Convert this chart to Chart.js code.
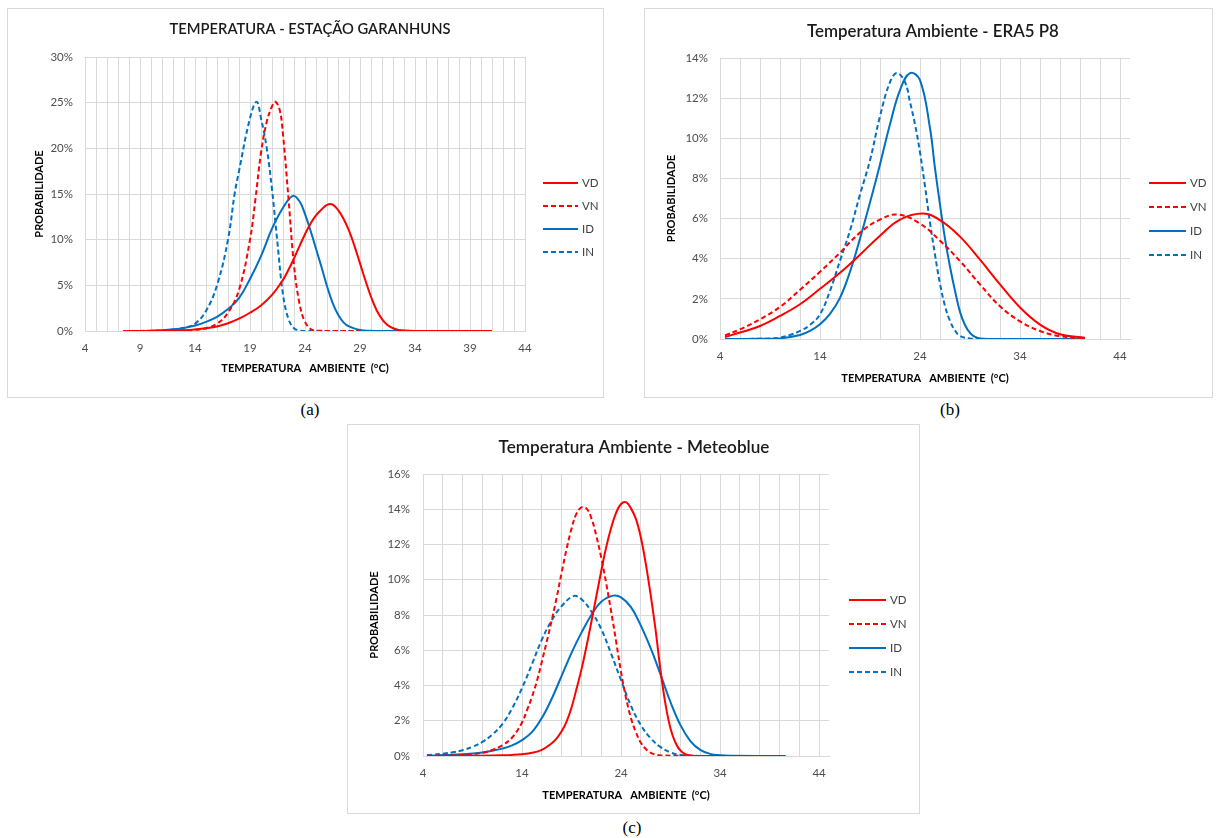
<!DOCTYPE html>
<html><head><meta charset="utf-8">
<script src="https://cdn.jsdelivr.net/npm/chart.js@4.4.1/dist/chart.umd.min.js"></script>
<style>
html,body{margin:0;padding:0;background:#fff;}
body{width:1217px;height:838px;position:relative;overflow:hidden;font-family:Lato,sans-serif;}
.panel{position:absolute;border:1px solid #d9d9d9;box-sizing:border-box;background:#fff;}
.panel canvas{position:absolute;left:0;top:0;}
.cap{position:absolute;font-family:"Liberation Serif","Times New Roman",serif;font-size:17px;color:#000;transform:translateX(-50%);line-height:20px;}
</style></head><body>
<div class="panel" style="left:7px;top:8px;width:597px;height:390px;"><canvas id="ca" width="595" height="388"></canvas></div>
<div class="panel" style="left:644px;top:8px;width:569px;height:390px;"><canvas id="cb" width="567" height="388"></canvas></div>
<div class="panel" style="left:347px;top:424px;width:573px;height:390px;"><canvas id="cc" width="571" height="388"></canvas></div>
<div class="cap" style="left:310px;top:400px;">(a)</div>
<div class="cap" style="left:950px;top:400px;">(b)</div>
<div class="cap" style="left:632px;top:818px;">(c)</div>
<script>
// ---- series names ----
const SERIES = ['VD', 'VN', 'ID', 'IN'];

// ---- (a) TEMPERATURA - ESTAÇÃO GARANHUNS ----
const A_VD_T = [7.5, 10, 12, 13, 14, 15, 16, 17, 18, 19, 20, 21, 22, 22.5, 23, 23.5, 24, 24.5, 25, 25.5, 26, 26.5, 27, 27.5, 28, 28.5, 29, 29.5, 30, 30.5, 31, 31.5, 32, 32.5, 33, 34, 41];
const A_VD_P = [0, 0.01, 0.05, 0.09, 0.17, 0.3, 0.5, 0.85, 1.35, 2.0, 2.8, 3.95, 5.6, 6.7, 7.95, 9.3, 10.6, 11.75, 12.65, 13.3, 13.8, 13.85, 13.25, 12.3, 11.0, 9.3, 7.4, 5.5, 3.75, 2.3, 1.3, 0.65, 0.3, 0.12, 0.05, 0.01, 0];
const A_VN_T = [7.5, 12, 13, 14, 15, 16, 17, 18, 19, 19.5, 20, 20.5, 21, 21.3, 21.7, 22, 22.5, 23, 23.5, 24, 24.6, 25.2, 29];
const A_VN_P = [0, 0.02, 0.05, 0.12, 0.3, 0.8, 2.0, 4.5, 10.0, 14.5, 19.5, 22.8, 24.6, 25.1, 24.2, 21.5, 14.5, 7.2, 3.0, 1.0, 0.15, 0.02, 0];
const A_ID_T = [7.5, 9, 10, 11, 12, 13, 14, 15, 16, 17, 18, 19, 20, 21, 22, 22.9, 23.5, 24, 24.5, 25, 25.5, 26, 26.5, 27, 27.5, 28, 29, 30, 31, 41];
const A_ID_P = [0, 0.01, 0.04, 0.09, 0.18, 0.33, 0.6, 1.0, 1.55, 2.4, 3.6, 5.7, 8.2, 11.2, 13.5, 14.8, 14.2, 12.8, 11.0, 9.0, 7.0, 4.9, 3.1, 1.8, 0.95, 0.5, 0.1, 0.02, 0, 0];
const A_IN_T = [7.5, 10, 12, 13, 14, 15, 16, 17, 17.6, 18, 19, 19.6, 20, 20.5, 21, 21.5, 22, 22.5, 23, 23.5, 24, 29];
const A_IN_P = [0, 0.03, 0.15, 0.35, 0.8, 2.2, 5.0, 10.0, 15.0, 17.5, 23.3, 25.1, 23.3, 20.2, 15.5, 9.6, 4.0, 1.3, 0.3, 0.05, 0, 0];
const A_XGRID = [4,5,6,7,8,9,10,11,12,13,14,15,16,17,18,19,20,21,22,23,24,25,26,27,28,29,30,31,32,33,34,35,36,37,38,39,40,41,42,43,44];
const A_XLABELS = [4, 9, 14, 19, 24, 29, 34, 39, 44];

// ---- (b) Temperatura Ambiente - ERA5 P8 ----
const B_VD_T = [4.5, 6, 8, 10, 12, 14, 16, 18, 20, 22, 24.3, 26, 28, 30, 32, 34, 36, 38, 40.5];
const B_VD_P = [0.1, 0.32, 0.65, 1.15, 1.73, 2.5, 3.3, 4.2, 5.15, 5.95, 6.25, 5.92, 5.1, 3.95, 2.72, 1.57, 0.72, 0.24, 0.06];
const B_VN_T = [4.5, 6, 8, 10, 12, 14, 16, 18, 20, 21.8, 24, 26, 28, 30, 32, 34, 36, 38, 40.5];
const B_VN_P = [0.18, 0.48, 0.98, 1.6, 2.45, 3.35, 4.3, 5.3, 5.95, 6.2, 5.75, 4.9, 3.88, 2.72, 1.63, 0.88, 0.4, 0.14, 0.03];
const B_ID_T = [4.5, 8, 10, 12, 13, 14, 15, 16, 17, 18, 19, 20, 21, 22, 23, 24, 25, 25.5, 26, 26.5, 27, 27.5, 28, 28.5, 29, 29.5, 30, 32, 40.5];
const B_ID_P = [0, 0.01, 0.03, 0.2, 0.4, 0.73, 1.25, 2.05, 3.35, 5.0, 6.8, 8.7, 10.7, 12.4, 13.25, 12.9, 10.5, 8.5, 6.7, 5.0, 3.6, 2.4, 1.35, 0.7, 0.3, 0.1, 0.03, 0, 0];
const B_IN_T = [4.5, 8, 9, 10, 11, 12, 13, 14, 15, 16, 17, 18, 19, 20, 21, 21.7, 22.5, 23, 23.5, 24, 24.5, 25, 25.5, 26, 26.5, 27, 27.5, 28, 29, 30];
const B_IN_P = [0, 0.01, 0.03, 0.07, 0.2, 0.4, 0.7, 1.23, 2.4, 3.9, 5.4, 7.2, 8.9, 11.1, 12.8, 13.25, 12.8, 11.8, 10.7, 9.3, 7.6, 5.8, 4.2, 2.75, 1.65, 0.9, 0.42, 0.15, 0.02, 0];
const B_XGRID = [4,6,8,10,12,14,16,18,20,22,24,26,28,30,32,34,36,38,40,42,44];
const B_XLABELS = [4, 14, 24, 34, 44];

// ---- (c) Temperatura Ambiente - Meteoblue ----
const C_VD_T = [4.4, 8, 10, 12, 13, 14, 15, 16, 17, 17.5, 18, 18.5, 19, 19.5, 20, 20.5, 21, 21.5, 22, 22.5, 23, 23.5, 24, 24.5, 25, 25.5, 26, 26.5, 27, 27.5, 28, 28.5, 29, 29.5, 30, 30.5, 31, 32, 40.6];
const C_VD_P = [0, 0.01, 0.02, 0.04, 0.06, 0.1, 0.18, 0.35, 0.72, 1.0, 1.4, 1.95, 2.75, 3.8, 4.9, 6.2, 7.6, 9.05, 10.5, 11.85, 12.95, 13.8, 14.3, 14.4, 14.05, 13.45, 12.4, 10.9, 9.1, 7.1, 4.8, 2.9, 1.55, 0.75, 0.3, 0.1, 0.03, 0, 0];
const C_VN_T = [4.4, 8, 9, 10, 11, 12, 13, 14, 14.5, 15, 15.5, 16, 16.5, 17, 17.5, 18, 18.5, 19, 19.5, 20, 20.5, 21, 21.5, 22, 22.5, 23, 23.5, 24, 24.5, 25, 25.5, 26, 26.5, 27, 27.5, 28, 33.5];
const C_VN_P = [0.01, 0.05, 0.1, 0.18, 0.35, 0.6, 1.05, 1.9, 2.6, 3.35, 4.25, 5.35, 6.5, 7.7, 9.0, 10.4, 11.75, 12.9, 13.75, 14.1, 14.05, 13.5, 12.5, 11.25, 9.8, 8.2, 6.5, 4.75, 3.3, 2.15, 1.35, 0.75, 0.4, 0.18, 0.08, 0.03, 0];
const C_ID_T = [4.4, 6, 8, 10, 11, 12, 13, 14, 15, 16, 17, 18, 19, 20, 21, 22, 23.2, 24, 25, 26, 27, 28, 29, 30, 31, 32, 33, 34, 35, 40.6];
const C_ID_P = [0.02, 0.05, 0.1, 0.2, 0.3, 0.42, 0.6, 0.9, 1.35, 2.15, 3.25, 4.55, 5.85, 7.0, 8.0, 8.75, 9.1, 9.0, 8.45, 7.4, 6.1, 4.6, 3.05, 1.75, 0.85, 0.35, 0.12, 0.04, 0.01, 0];
const C_IN_T = [4.4, 5, 6, 7, 8, 9, 10, 11, 12, 13, 14, 15, 16, 17, 18, 19.2, 20, 21, 22, 23, 24, 25, 26, 27, 28, 29, 30, 31, 33];
const C_IN_P = [0.05, 0.07, 0.13, 0.21, 0.33, 0.52, 0.8, 1.22, 1.8, 2.7, 3.85, 5.2, 6.6, 7.7, 8.5, 9.07, 8.9, 8.2, 7.2, 5.8, 4.3, 2.85, 1.75, 1.0, 0.5, 0.2, 0.06, 0.02, 0];
const C_XGRID = B_XGRID;
const C_XLABELS = B_XLABELS;

const RED = '#FF0000', BLUE = '#0070C0';
const STYLE = {
  VD: {color: RED, dash: []},
  VN: {color: RED, dash: [5, 3]},
  ID: {color: BLUE, dash: []},
  IN: {color: BLUE, dash: [5, 3]}
};

const overlay = {
  id: 'overlay',
  afterDraw(chart, args, o) {
    const ctx = chart.ctx;
    ctx.save();
    ctx.font = o.titleWeight + ' 14px Lato';
    const w = ctx.measureText(o.title).width;
    const size = 14 * o.titleW / w;
    ctx.font = o.titleWeight + ' ' + size.toFixed(2) + 'px Lato';
    ctx.fillStyle = '#1a1a1a';
    ctx.textAlign = 'center';
    ctx.textBaseline = 'middle';
    ctx.fillText(o.title, o.titleX, o.titleY);
    chart.data.datasets.forEach((ds, i) => {
      const y = o.legY + i * o.legGap;
      ctx.beginPath();
      ctx.strokeStyle = ds.borderColor;
      ctx.lineWidth = ds.borderWidth;
      ctx.setLineDash(ds.borderDash || []);
      ctx.moveTo(o.legX, y);
      ctx.lineTo(o.legX + o.legLen, y);
      ctx.stroke();
      ctx.setLineDash([]);
      ctx.fillStyle = '#404040';
      ctx.font = '11.5px Lato';
      ctx.textAlign = 'left';
      ctx.fillText(ds.label, o.legX + o.legLen + 4, y + 0.5);
    });
    ctx.restore();
  }
};

function makeChart(id, cfg) {
  const datasets = cfg.series.map((s, i) => {
    const name = SERIES[i];
    return {
      label: name,
      data: s[0].map((t, k) => ({x: t, y: s[1][k]})),
      borderColor: STYLE[name].color,
      borderDash: STYLE[name].dash,
      borderWidth: 2,
      pointRadius: 0,
      fill: false,
      tension: 0.4
    };
  });
  const gridColor = '#d9d9d9';
  return new Chart(document.getElementById(id), {
    type: 'line',
    data: {datasets},
    plugins: [overlay],
    options: {
      responsive: false,
      animation: false,
      events: [],
      layout: {padding: cfg.padding},
      plugins: {
        legend: {display: false},
        title: {display: false},
        tooltip: {enabled: false},
        overlay: cfg.overlay
      },
      scales: {
        x: {
          type: 'linear',
          min: cfg.xmin, max: cfg.xmax,
          afterBuildTicks: (sc) => { sc.ticks = cfg.xgrid.map(v => ({value: v})); },
          afterFit: (sc) => { sc.height = cfg.xHeight; },
          grid: {color: gridColor, drawTicks: false, lineWidth: 1},
          border: {color: gridColor},
          ticks: {
            autoSkip: false, maxRotation: 0, padding: cfg.xTickPad,
            color: '#4d4d4d', font: {family: 'Lato', size: 11.5},
            callback: (v) => cfg.xlabels.includes(v) ? String(v) : ''
          },
          title: {
            display: true, text: 'TEMPERATURA   AMBIENTE  (°C)',
            color: '#000', font: {family: 'Lato', size: 11, weight: 'bold'},
            padding: {top: 0, bottom: cfg.xTitlePad}
          }
        },
        y: {
          type: 'linear',
          min: 0, max: cfg.ymax,
          afterFit: (sc) => { sc.width = cfg.yWidth; },
          grid: {color: gridColor, drawTicks: false, lineWidth: 1},
          border: {color: gridColor},
          ticks: {
            stepSize: cfg.ystep, padding: cfg.yTickPad,
            color: '#4d4d4d', font: {family: 'Lato', size: 11.5},
            callback: (v) => v + '%'
          },
          title: {
            display: true, text: 'PROBABILIDADE',
            color: '#000', font: {family: 'Lato', size: 11, weight: 'bold'},
            padding: {top: cfg.yTitlePad, bottom: 0}
          }
        }
      }
    }
  });
}

makeChart('ca', {
  series: [[A_VD_T, A_VD_P], [A_VN_T, A_VN_P], [A_ID_T, A_ID_P], [A_IN_T, A_IN_P]],
  xmin: 4, xmax: 44, xgrid: A_XGRID, xlabels: A_XLABELS,
  ymax: 30, ystep: 5,
  padding: {top: 48, right: 78, left: 0, bottom: 0},
  yWidth: 77, xHeight: 66, xTickPad: 10, yTickPad: 12, xTitlePad: 22, yTitlePad: 25,
  overlay: {title: 'TEMPERATURA - ESTAÇÃO GARANHUNS', titleW: 281, titleWeight: '600', titleX: 302, titleY: 20,
            legX: 535, legLen: 35, legY: 174, legGap: 23}
});
makeChart('cb', {
  series: [[B_VD_T, B_VD_P], [B_VN_T, B_VN_P], [B_ID_T, B_ID_P], [B_IN_T, B_IN_P]],
  xmin: 4, xmax: 45, xgrid: B_XGRID, xlabels: B_XLABELS,
  ymax: 14, ystep: 2,
  padding: {top: 49, right: 82, left: 0, bottom: 0},
  yWidth: 75, xHeight: 58, xTickPad: 10, yTickPad: 12, xTitlePad: 12, yTitlePad: 20,
  overlay: {title: 'Temperatura Ambiente - ERA5 P8', titleW: 252, titleWeight: '600', titleX: 288, titleY: 23,
            legX: 504, legLen: 37, legY: 174, legGap: 24}
});
makeChart('cc', {
  series: [[C_VD_T, C_VD_P], [C_VN_T, C_VN_P], [C_ID_T, C_ID_P], [C_IN_T, C_IN_P]],
  xmin: 4, xmax: 45, xgrid: C_XGRID, xlabels: C_XLABELS,
  ymax: 16, ystep: 2,
  padding: {top: 49, right: 90, left: 0, bottom: 0},
  yWidth: 75, xHeight: 57, xTickPad: 10, yTickPad: 13, xTitlePad: 11, yTitlePad: 20,
  overlay: {title: 'Temperatura Ambiente - Meteoblue', titleW: 271, titleWeight: '600', titleX: 286, titleY: 22,
            legX: 501, legLen: 37, legY: 175, legGap: 24}
});
</script>
</body></html>
